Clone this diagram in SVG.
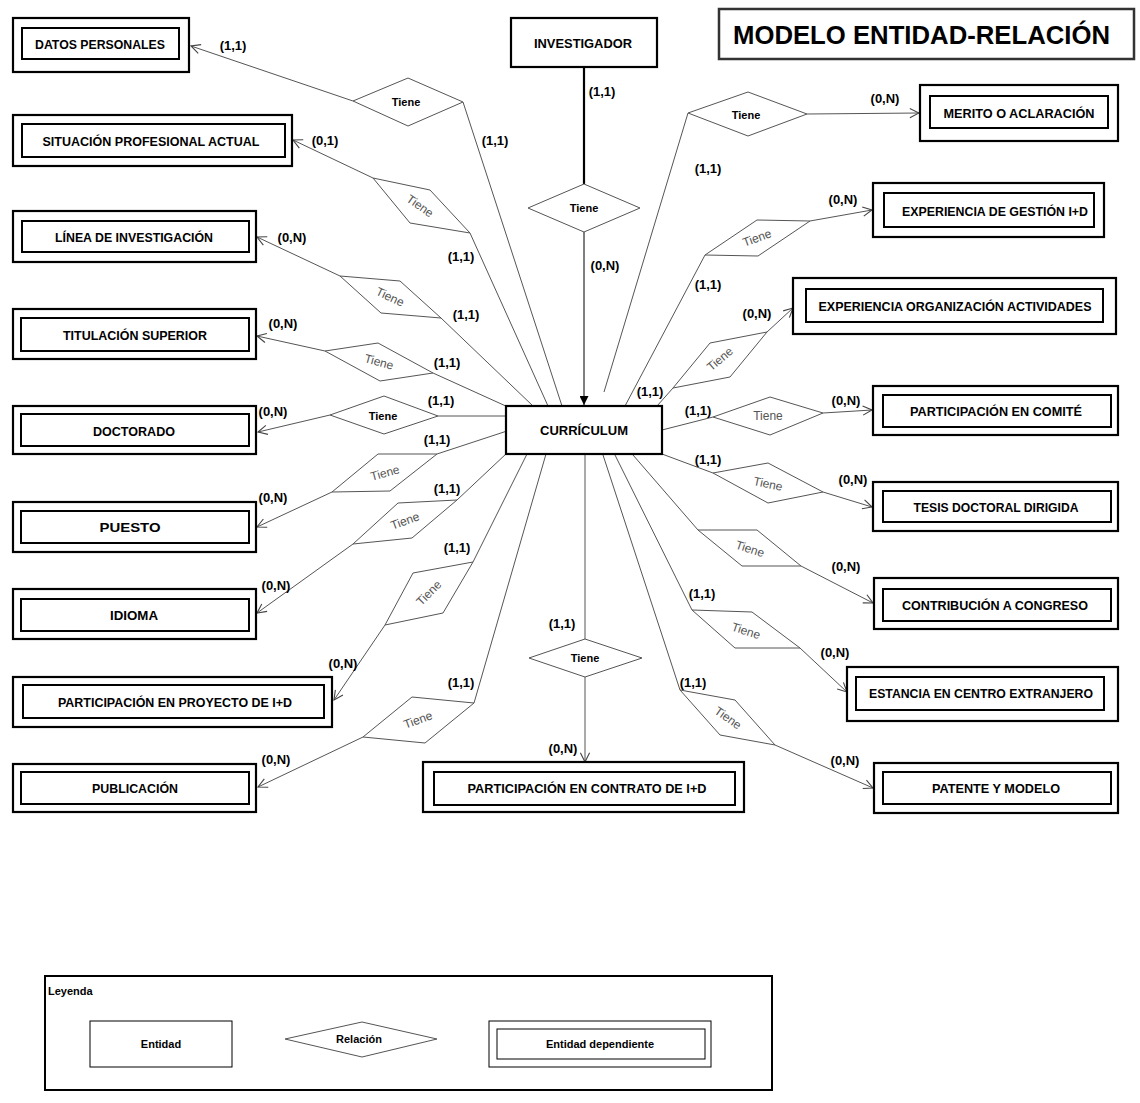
<svg xmlns="http://www.w3.org/2000/svg" width="1140" height="1103" viewBox="0 0 1140 1103">
<style>
.bg{fill:#fff}
.outer{fill:#fff;stroke:#000;stroke-width:2.2}
.inner{fill:none;stroke:#000;stroke-width:2}
.single{fill:#fff;stroke:#000;stroke-width:2.2}
.lbl{font-family:"Liberation Sans",Arial,sans-serif;font-weight:bold;font-size:13px;text-anchor:middle;dominant-baseline:central;fill:#000}
.card{font-family:"Liberation Sans",Arial,sans-serif;font-weight:bold;font-size:13px;text-anchor:middle;dominant-baseline:central;fill:#000}
.rel{fill:#fff;stroke:#555;stroke-width:1}
.relb{font-family:"Liberation Sans",Arial,sans-serif;font-weight:bold;font-size:11px;text-anchor:middle;dominant-baseline:central;fill:#000}
.relg{font-family:"Liberation Sans",Arial,sans-serif;font-size:12px;text-anchor:middle;dominant-baseline:central;fill:#555}
.con{fill:none;stroke:#555;stroke-width:1}
.arr{marker-end:url(#open)}
.leg{font-family:"Liberation Sans",Arial,sans-serif;font-weight:bold;font-size:11px;fill:#000}
</style>
<defs>
<marker id="open" viewBox="0 0 12 12" refX="11" refY="6" markerWidth="11" markerHeight="11" orient="auto" markerUnits="userSpaceOnUse"><path d="M1,1 L11,6 L1,11" fill="none" stroke="#444" stroke-width="1.2"/></marker>
<marker id="filled" viewBox="0 0 10 10" refX="10" refY="5" markerWidth="9" markerHeight="9" orient="auto" markerUnits="userSpaceOnUse"><path d="M0,0 L10,5 L0,10 z" fill="#000"/></marker>
</defs>
<rect class="bg" x="0" y="0" width="1140" height="1103"/>

<g id="title">
<rect x="719" y="9" width="415" height="50" fill="#fff" stroke="#333" stroke-width="2.5"/>
<text x="733" y="44" font-family="'Liberation Sans',Arial,sans-serif" font-weight="bold" font-size="26" textLength="377" lengthAdjust="spacingAndGlyphs">MODELO ENTIDAD-RELACIÓN</text>
</g>

<g id="connectors">
<path class="con" d="M562,406 L463,102"/>
<path class="con arr" d="M353,101 L191,46"/>
<path class="con" d="M548,406 L470,233"/>
<path class="con arr" d="M373,178 L293,140"/>
<path class="con" d="M533,406 L441,318"/>
<path class="con arr" d="M340,276 L257,237"/>
<path class="con" d="M508,407 L433,373"/>
<path class="con arr" d="M325,351 L257,336"/>
<path class="con" d="M506,416 L438,416"/>
<path class="con arr" d="M330,415 L258,432"/>
<path class="con" d="M507,431 L437,454"/>
<path class="con arr" d="M332,492 L257,527"/>
<path class="con" d="M507,453 L457,500"/>
<path class="con arr" d="M353,544 L257,613"/>
<path class="con" d="M527,454 L473,562"/>
<path class="con arr" d="M385,625 L334,700"/>
<path class="con" d="M546,454 L474,703"/>
<path class="con arr" d="M363,737 L258,787"/>
<path d="M584,67 L584,184" fill="none" stroke="#000" stroke-width="2.2"/>
<path d="M584,232 L584,405" fill="none" stroke="#000" stroke-width="1" marker-end="url(#filled)"/>
<path class="con" d="M585,454 L585,639"/>
<path class="con arr" d="M585,677 L585,762"/>
<path class="con" d="M604,392 L688,113"/>
<path class="con arr" d="M807,114 L919,113"/>
<path class="con" d="M625,406 L705,255"/>
<path class="con arr" d="M810,221 L872,210"/>
<path class="con" d="M657,406 L673,388"/>
<path class="con arr" d="M767,332 L793,308"/>
<path class="con" d="M662,430 L713,417"/>
<path class="con arr" d="M823,413 L872,410"/>
<path class="con" d="M662,454 L713,473"/>
<path class="con arr" d="M823,492 L872,507"/>
<path class="con" d="M633,455 L698,530"/>
<path class="con arr" d="M801,566 L873,603"/>
<path class="con" d="M615,455 L692,610"/>
<path class="con arr" d="M800,648 L847,692"/>
<path class="con" d="M603,455 L680,690"/>
<path class="con arr" d="M775,745 L873,788"/>
</g>

<g id="e-datos"><rect class="outer" x="13" y="18" width="176" height="54"/><rect class="inner" x="22" y="28" width="157" height="31"/><text class="lbl" x="100" y="44" textLength="130" lengthAdjust="spacingAndGlyphs">DATOS PERSONALES</text></g>
<g id="e-situacion"><rect class="outer" x="13" y="115" width="279" height="51"/><rect class="inner" x="22" y="124" width="263" height="33"/><text class="lbl" x="151" y="141" textLength="217" lengthAdjust="spacingAndGlyphs">SITUACIÓN PROFESIONAL ACTUAL</text></g>
<g id="e-linea"><rect class="outer" x="13" y="211" width="243" height="51"/><rect class="inner" x="22" y="221" width="227" height="31"/><text class="lbl" x="134" y="237" textLength="158" lengthAdjust="spacingAndGlyphs">LÍNEA DE INVESTIGACIÓN</text></g>
<g id="e-titulacion"><rect class="outer" x="13" y="309" width="243" height="50"/><rect class="inner" x="21" y="318" width="228" height="33"/><text class="lbl" x="135" y="335" textLength="144" lengthAdjust="spacingAndGlyphs">TITULACIÓN SUPERIOR</text></g>
<g id="e-doctorado"><rect class="outer" x="13" y="406" width="243" height="48"/><rect class="inner" x="21" y="414" width="228" height="32"/><text class="lbl" x="134" y="431" textLength="82" lengthAdjust="spacingAndGlyphs">DOCTORADO</text></g>
<g id="e-puesto"><rect class="outer" x="13" y="502" width="243" height="50"/><rect class="inner" x="21" y="511" width="228" height="32"/><text class="lbl" x="130" y="527" textLength="61" lengthAdjust="spacingAndGlyphs">PUESTO</text></g>
<g id="e-idioma"><rect class="outer" x="13" y="589" width="243" height="50"/><rect class="inner" x="21" y="599" width="228" height="32"/><text class="lbl" x="134" y="615" textLength="48" lengthAdjust="spacingAndGlyphs">IDIOMA</text></g>
<g id="e-proyecto"><rect class="outer" x="13" y="677" width="319" height="50"/><rect class="inner" x="23" y="685" width="301" height="33"/><text class="lbl" x="175" y="702" textLength="234" lengthAdjust="spacingAndGlyphs">PARTICIPACIÓN EN PROYECTO DE I+D</text></g>
<g id="e-publicacion"><rect class="outer" x="13" y="764" width="243" height="48"/><rect class="inner" x="21" y="772" width="228" height="32"/><text class="lbl" x="135" y="788" textLength="86" lengthAdjust="spacingAndGlyphs">PUBLICACIÓN</text></g>

<g id="e-merito"><rect class="outer" x="920" y="85" width="198" height="56"/><rect class="inner" x="930" y="96" width="178" height="32"/><text class="lbl" x="1019" y="113" textLength="151" lengthAdjust="spacingAndGlyphs">MERITO O ACLARACIÓN</text></g>
<g id="e-gestion"><rect class="outer" x="873" y="183" width="231" height="54"/><rect class="inner" x="884" y="193" width="210" height="34"/><text class="lbl" x="995" y="211" textLength="186" lengthAdjust="spacingAndGlyphs">EXPERIENCIA DE GESTIÓN I+D</text></g>
<g id="e-organizacion"><rect class="outer" x="793" y="278" width="323" height="56"/><rect class="inner" x="806" y="289" width="297" height="33"/><text class="lbl" x="955" y="306" textLength="273" lengthAdjust="spacingAndGlyphs">EXPERIENCIA ORGANIZACIÓN ACTIVIDADES</text></g>
<g id="e-comite"><rect class="outer" x="873" y="386" width="245" height="49"/><rect class="inner" x="883" y="395" width="228" height="32"/><text class="lbl" x="996" y="411" textLength="172" lengthAdjust="spacingAndGlyphs">PARTICIPACIÓN EN COMITÉ</text></g>
<g id="e-tesis"><rect class="outer" x="873" y="482" width="245" height="49"/><rect class="inner" x="883" y="491" width="228" height="31"/><text class="lbl" x="996" y="507" textLength="165" lengthAdjust="spacingAndGlyphs">TESIS DOCTORAL DIRIGIDA</text></g>
<g id="e-congreso"><rect class="outer" x="874" y="578" width="244" height="51"/><rect class="inner" x="883" y="589" width="228" height="32"/><text class="lbl" x="995" y="605" textLength="186" lengthAdjust="spacingAndGlyphs">CONTRIBUCIÓN A CONGRESO</text></g>
<g id="e-estancia"><rect class="outer" x="847" y="667" width="271" height="54"/><rect class="inner" x="856" y="677" width="248" height="33"/><text class="lbl" x="981" y="693" textLength="224" lengthAdjust="spacingAndGlyphs">ESTANCIA EN CENTRO EXTRANJERO</text></g>
<g id="e-patente"><rect class="outer" x="874" y="763" width="244" height="50"/><rect class="inner" x="883" y="772" width="228" height="32"/><text class="lbl" x="996" y="788" textLength="128" lengthAdjust="spacingAndGlyphs">PATENTE Y MODELO</text></g>
<g id="e-contrato"><rect class="outer" x="423" y="762" width="321" height="50"/><rect class="inner" x="434" y="772" width="301" height="33"/><text class="lbl" x="587" y="788" textLength="239" lengthAdjust="spacingAndGlyphs">PARTICIPACIÓN EN CONTRATO DE I+D</text></g>
<g id="e-investigador"><rect class="single" x="511" y="18" width="146" height="49"/><text class="lbl" x="583" y="43" textLength="98" lengthAdjust="spacingAndGlyphs">INVESTIGADOR</text></g>
<g id="e-curriculum"><rect class="single" x="506" y="406" width="156" height="48"/><text class="lbl" x="584" y="430" textLength="88" lengthAdjust="spacingAndGlyphs">CURRÍCULUM</text></g>

<g id="r-datos"><polygon class="rel" points="353,101 408,78 463,102 408,126"/><text class="relb" x="406" y="102">Tiene</text></g>
<g id="r-situacion"><polygon class="rel" points="373,178 430,190 470,233 410,223"/><text class="relg" x="420" y="206" transform="rotate(35 420 206)">Tiene</text></g>
<g id="r-linea"><polygon class="rel" points="340,276 400,281 441,318 381,313"/><text class="relg" x="390" y="297" transform="rotate(25 390 297)">Tiene</text></g>
<g id="r-titulacion"><polygon class="rel" points="325,351 378,343 433,373 380,381"/><text class="relg" x="379" y="362" transform="rotate(15 379 362)">Tiene</text></g>
<g id="r-doctorado"><polygon class="rel" points="330,415 384,396 438,416 384,434"/><text class="relb" x="383" y="416">Tiene</text></g>
<g id="r-puesto"><polygon class="rel" points="437,454 378,454 332,492 390,491"/><text class="relg" x="385" y="473" transform="rotate(-15 385 473)">Tiene</text></g>
<g id="r-idioma"><polygon class="rel" points="457,500 398,503 353,544 412,538"/><text class="relg" x="405" y="521" transform="rotate(-20 405 521)">Tiene</text></g>
<g id="r-proyecto"><polygon class="rel" points="473,562 413,573 385,625 443,613"/><text class="relg" x="429" y="593" transform="rotate(-45 429 593)">Tiene</text></g>
<g id="r-publicacion"><polygon class="rel" points="474,703 412,697 363,737 425,743"/><text class="relg" x="418" y="720" transform="rotate(-20 418 720)">Tiene</text></g>
<g id="r-contrato"><polygon class="rel" points="529,658 585,639 642,658 585,677"/><text class="relb" x="585" y="658">Tiene</text></g>
<g id="r-investigador"><polygon class="rel" points="528,208 584,184 640,208 584,232"/><text class="relb" x="584" y="208">Tiene</text></g>
<g id="r-merito"><polygon class="rel" points="688,113 748,92 807,114 748,136"/><text class="relb" x="746" y="115">Tiene</text></g>
<g id="r-gestion"><polygon class="rel" points="705,255 757,220 810,221 758,256"/><text class="relg" x="757" y="238" transform="rotate(-20 757 238)">Tiene</text></g>
<g id="r-organizacion"><polygon class="rel" points="673,388 710,343 767,332 730,377"/><text class="relg" x="720" y="359" transform="rotate(-40 720 359)">Tiene</text></g>
<g id="r-comite"><polygon class="rel" points="713,417 770,397 823,413 770,435"/><text class="relg" x="768" y="416">Tiene</text></g>
<g id="r-tesis"><polygon class="rel" points="713,473 768,463 823,492 768,503"/><text class="relg" x="768" y="484" transform="rotate(12 768 484)">Tiene</text></g>
<g id="r-congreso"><polygon class="rel" points="698,530 757,530 801,566 742,566"/><text class="relg" x="750" y="549" transform="rotate(18 750 549)">Tiene</text></g>
<g id="r-estancia"><polygon class="rel" points="692,610 752,612 800,648 735,648"/><text class="relg" x="746" y="631" transform="rotate(18 746 631)">Tiene</text></g>
<g id="r-patente"><polygon class="rel" points="680,690 735,700 775,745 720,735"/><text class="relg" x="728" y="718" transform="rotate(35 728 718)">Tiene</text></g>

<g id="cardinalities">
<text class="card" x="233" y="45">(1,1)</text>
<text class="card" x="495" y="140">(1,1)</text>
<text class="card" x="325" y="140">(0,1)</text>
<text class="card" x="461" y="256">(1,1)</text>
<text class="card" x="292" y="237">(0,N)</text>
<text class="card" x="466" y="314">(1,1)</text>
<text class="card" x="283" y="323">(0,N)</text>
<text class="card" x="447" y="362">(1,1)</text>
<text class="card" x="441" y="400">(1,1)</text>
<text class="card" x="273" y="411">(0,N)</text>
<text class="card" x="437" y="439">(1,1)</text>
<text class="card" x="273" y="497">(0,N)</text>
<text class="card" x="447" y="488">(1,1)</text>
<text class="card" x="457" y="547">(1,1)</text>
<text class="card" x="276" y="585">(0,N)</text>
<text class="card" x="343" y="663">(0,N)</text>
<text class="card" x="461" y="682">(1,1)</text>
<text class="card" x="276" y="759">(0,N)</text>
<text class="card" x="602" y="91">(1,1)</text>
<text class="card" x="605" y="265">(0,N)</text>
<text class="card" x="562" y="623">(1,1)</text>
<text class="card" x="563" y="748">(0,N)</text>
<text class="card" x="885" y="98">(0,N)</text>
<text class="card" x="708" y="168">(1,1)</text>
<text class="card" x="843" y="199">(0,N)</text>
<text class="card" x="708" y="284">(1,1)</text>
<text class="card" x="757" y="313">(0,N)</text>
<text class="card" x="650" y="391">(1,1)</text>
<text class="card" x="698" y="410">(1,1)</text>
<text class="card" x="846" y="400">(0,N)</text>
<text class="card" x="708" y="459">(1,1)</text>
<text class="card" x="853" y="479">(0,N)</text>
<text class="card" x="846" y="566">(0,N)</text>
<text class="card" x="702" y="593">(1,1)</text>
<text class="card" x="835" y="652">(0,N)</text>
<text class="card" x="693" y="682">(1,1)</text>
<text class="card" x="845" y="760">(0,N)</text>
</g>

<g id="legend">
<rect x="45" y="976" width="727" height="114" fill="#fff" stroke="#000" stroke-width="2"/>
<text class="leg" x="48" y="995" font-size="12">Leyenda</text>
<g id="leg-entidad"><rect x="90" y="1021" width="142" height="46" fill="#fff" stroke="#000" stroke-width="1"/><text class="leg" x="161" y="1044" text-anchor="middle" dominant-baseline="central" font-size="10">Entidad</text></g>
<g id="leg-relacion"><polygon points="285,1039 362,1022 437,1039 362,1057" fill="#fff" stroke="#555" stroke-width="1"/><text class="leg" x="359" y="1039" text-anchor="middle" dominant-baseline="central" font-size="10">Relación</text></g>
<g id="leg-dependiente"><rect x="489" y="1021" width="222" height="46" fill="#fff" stroke="#000" stroke-width="1"/><rect x="497" y="1029" width="208" height="30" fill="none" stroke="#000" stroke-width="1"/><text class="leg" x="600" y="1044" text-anchor="middle" dominant-baseline="central" font-size="10">Entidad dependiente</text></g>
</g>
</svg>
